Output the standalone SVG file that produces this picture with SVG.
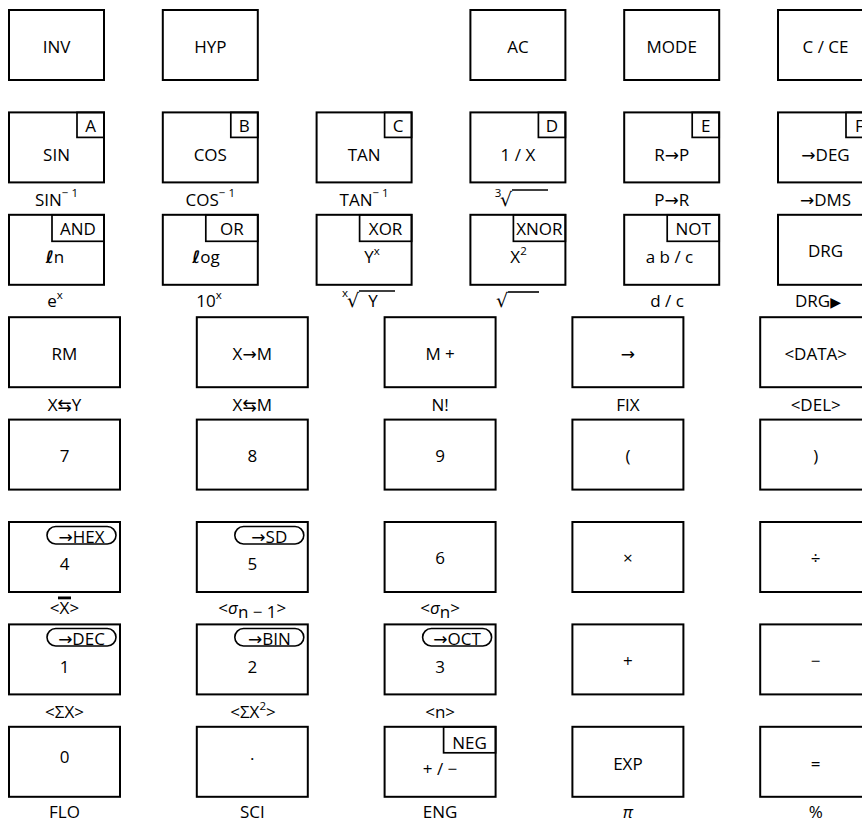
<svg xmlns="http://www.w3.org/2000/svg" width="862" height="823" viewBox="0 0 862 823">
<style>
.k{fill:none;stroke:#000;stroke-width:2}
.c{fill:none;stroke:#000;stroke-width:1.7}
.p{fill:none;stroke:#000;stroke-width:1.6}
.v{stroke:#000;stroke-width:1.6}
text{font-family:"Open Sans","DejaVu Sans",sans-serif;font-size:17px;fill:#000;text-anchor:middle}
.s{font-size:11.5px}
.r{font-family:"DejaVu Sans",sans-serif;font-size:19px;text-anchor:start}
.l{font-style:italic;font-weight:bold;font-family:"DejaVu Sans",sans-serif}
</style>
<rect width="862" height="823" fill="#fff"/>
<g id="connectors"/>
<!-- Row 0 -->
<g id="k-inv"><rect class="k" x="9" y="10" width="95" height="70"/><text x="56.5" y="53">INV</text></g>
<g id="k-hyp"><rect class="k" x="162.8" y="10" width="95" height="70"/><text x="210.3" y="53">HYP</text></g>
<g id="k-ac"><rect class="k" x="470.4" y="10" width="95" height="70"/><text x="517.9" y="53">AC</text></g>
<g id="k-mode"><rect class="k" x="624.2" y="10" width="95" height="70"/><text x="671.7" y="53">MODE</text></g>
<g id="k-cce"><rect class="k" x="778" y="10" width="95" height="70"/><text x="825.5" y="53">C / CE</text></g>
<!-- Row 1 -->
<g id="k-sin"><rect class="k" x="9" y="112.4" width="95" height="70"/><rect class="c" x="77" y="112.4" width="27" height="25"/><text x="90.5" y="132">A</text><text x="56.5" y="161">SIN</text><text x="56.5" y="206">SIN<tspan class="s" dy="-9">− 1</tspan></text></g>
<g id="k-cos"><rect class="k" x="162.8" y="112.4" width="95" height="70"/><rect class="c" x="230.8" y="112.4" width="27" height="25"/><text x="244.3" y="132">B</text><text x="210.3" y="161">COS</text><text x="210.3" y="206">COS<tspan class="s" dy="-9">− 1</tspan></text></g>
<g id="k-tan"><rect class="k" x="316.6" y="112.4" width="95" height="70"/><rect class="c" x="384.6" y="112.4" width="27" height="25"/><text x="398.1" y="132">C</text><text x="364.1" y="161">TAN</text><text x="364.1" y="206">TAN<tspan class="s" dy="-9">− 1</tspan></text></g>
<g id="k-recip"><rect class="k" x="470.4" y="112.4" width="95" height="70"/><rect class="c" x="538.4" y="112.4" width="27" height="25"/><text x="551.9" y="132">D</text><text x="517.9" y="161">1 / X</text><text class="s" x="498" y="197">3</text><text class="r" x="500" y="206">√</text><line class="v" x1="512" y1="190" x2="548" y2="190"/></g>
<g id="k-rp"><rect class="k" x="624.2" y="112.4" width="95" height="70"/><rect class="c" x="692.2" y="112.4" width="27" height="25"/><text x="705.7" y="132">E</text><text x="671.7" y="161">R→P</text><text x="671.7" y="206">P→R</text></g>
<g id="k-deg"><rect class="k" x="778" y="112.4" width="95" height="70"/><rect class="c" x="846" y="112.4" width="27" height="25"/><text x="859.5" y="132">F</text><text x="825.5" y="161">→DEG</text><text x="825.5" y="206">→DMS</text></g>
<!-- Row 2 -->
<g id="k-ln"><rect class="k" x="9" y="214.8" width="95" height="70"/><rect class="c" x="52" y="214.8" width="52" height="26.5"/><text x="78" y="235">AND</text><text x="55" y="263"><tspan class="l">ℓ</tspan>n</text><text x="55" y="307">e<tspan class="s" dy="-8">x</tspan></text></g>
<g id="k-log"><rect class="k" x="162.8" y="214.8" width="95" height="70"/><rect class="c" x="205.8" y="214.8" width="52" height="26.5"/><text x="231.8" y="235">OR</text><text x="206" y="263"><tspan class="l">ℓ</tspan>og</text><text x="209" y="307">10<tspan class="s" dy="-8">x</tspan></text></g>
<g id="k-pow"><rect class="k" x="316.6" y="214.8" width="95" height="70"/><rect class="c" x="359.6" y="214.8" width="52" height="26.5"/><text x="385.6" y="235">XOR</text><text x="372" y="263">Y<tspan class="s" dy="-8">x</tspan></text><text class="s" x="345" y="297">x</text><text class="r" x="347" y="307">√</text><line class="v" x1="359" y1="291" x2="395" y2="291"/><text x="373" y="307">Y</text></g>
<g id="k-sq"><rect class="k" x="470.4" y="214.8" width="95" height="70"/><rect class="c" x="513.4" y="214.8" width="52" height="26.5"/><text x="539.4" y="235">XNOR</text><text x="518.5" y="263">X<tspan class="s" dy="-8">2</tspan></text><text class="r" x="496" y="307">√</text><line class="v" x1="508" y1="292" x2="539" y2="292"/></g>
<g id="k-frac"><rect class="k" x="624.2" y="214.8" width="95" height="70"/><rect class="c" x="667.2" y="214.8" width="52" height="26.5"/><text x="693.2" y="235">NOT</text><text x="669.5" y="263">a  b / c</text><text x="667" y="307">d / c</text></g>
<g id="k-drg"><rect class="k" x="778" y="214.8" width="95" height="70"/><text x="825.5" y="257">DRG</text><text x="818" y="307">DRG<tspan font-family="DejaVu Sans" font-size="14px">▶</tspan></text></g>
<!-- Row 3 -->
<g id="k-rm"><rect class="k" x="9" y="317.2" width="111" height="70"/><text x="64.5" y="360">RM</text><text x="64.5" y="411">X⇆Y</text></g>
<g id="k-xm"><rect class="k" x="196.8" y="317.2" width="111" height="70"/><text x="252.3" y="360">X→M</text><text x="252.3" y="411">X⇆M</text></g>
<g id="k-mplus"><rect class="k" x="384.6" y="317.2" width="111" height="70"/><text x="440.1" y="360">M +</text><text x="440.1" y="411">N!</text></g>
<g id="k-arrow"><rect class="k" x="572.4" y="317.2" width="111" height="70"/><text x="627.9" y="360">→</text><text x="627.9" y="411">FIX</text></g>
<g id="k-data"><rect class="k" x="760.2" y="317.2" width="111" height="70"/><text x="815.7" y="360">&lt;DATA&gt;</text><text x="815.7" y="411">&lt;DEL&gt;</text></g>
<!-- Row 4 -->
<g id="k-7"><rect class="k" x="9" y="419.6" width="111" height="70"/><text x="64.5" y="462">7</text></g>
<g id="k-8"><rect class="k" x="196.8" y="419.6" width="111" height="70"/><text x="252.3" y="462">8</text></g>
<g id="k-9"><rect class="k" x="384.6" y="419.6" width="111" height="70"/><text x="440.1" y="462">9</text></g>
<g id="k-lp"><rect class="k" x="572.4" y="419.6" width="111" height="70"/><text x="627.9" y="462">(</text></g>
<g id="k-rp2"><rect class="k" x="760.2" y="419.6" width="111" height="70"/><text x="815.7" y="462">)</text></g>
<!-- Row 5 -->
<g id="k-4"><rect class="k" x="9" y="522" width="111" height="70"/><rect class="p" x="47" y="526.5" width="69" height="17.5" rx="8.75"/><text x="81.5" y="543">→HEX</text><text x="64.5" y="570">4</text><text x="64.5" y="614">&lt;X&gt;</text><rect x="58" y="596.5" width="13" height="2.8"/></g>
<g id="k-5"><rect class="k" x="196.8" y="522" width="111" height="70"/><rect class="p" x="234.8" y="526.5" width="69" height="17.5" rx="8.75"/><text x="269.3" y="543">→SD</text><text x="252.3" y="570">5</text><text x="252.3" y="614">&lt;<tspan font-style="italic">σ</tspan><tspan dy="4">n − 1</tspan><tspan dy="-4">&gt;</tspan></text></g>
<g id="k-6"><rect class="k" x="384.6" y="522" width="111" height="70"/><text x="440.1" y="564">6</text><text x="440.1" y="614">&lt;<tspan font-style="italic">σ</tspan><tspan dy="4">n</tspan><tspan dy="-4">&gt;</tspan></text></g>
<g id="k-mul"><rect class="k" x="572.4" y="522" width="111" height="70"/><text x="627.9" y="564">×</text></g>
<g id="k-div"><rect class="k" x="760.2" y="522" width="111" height="70"/><text x="815.7" y="564">÷</text></g>
<!-- Row 6 -->
<g id="k-1"><rect class="k" x="9" y="624.4" width="111" height="70"/><rect class="p" x="47" y="628.5" width="69" height="17.5" rx="8.75"/><text x="81.5" y="645">→DEC</text><text x="64.5" y="673">1</text><text x="64.5" y="718">&lt;ΣX&gt;</text></g>
<g id="k-2"><rect class="k" x="196.8" y="624.4" width="111" height="70"/><rect class="p" x="234.8" y="628.5" width="69" height="17.5" rx="8.75"/><text x="269.3" y="645">→BIN</text><text x="252.3" y="673">2</text><text x="253" y="718">&lt;ΣX<tspan class="s" dy="-8">2</tspan><tspan dy="8">&gt;</tspan></text></g>
<g id="k-3"><rect class="k" x="384.6" y="624.4" width="111" height="70"/><rect class="p" x="422.6" y="628.5" width="69" height="17.5" rx="8.75"/><text x="457.1" y="645">→OCT</text><text x="440.1" y="673">3</text><text x="440.1" y="718">&lt;n&gt;</text></g>
<g id="k-add"><rect class="k" x="572.4" y="624.4" width="111" height="70"/><text x="627.9" y="667">+</text></g>
<g id="k-sub"><rect class="k" x="760.2" y="624.4" width="111" height="70"/><text x="815.7" y="667">−</text></g>
<!-- Row 7 -->
<g id="k-0"><rect class="k" x="9" y="726.8" width="111" height="70"/><text x="64.5" y="763">0</text><text x="64.5" y="818">FLO</text></g>
<g id="k-dot"><rect class="k" x="196.8" y="726.8" width="111" height="70"/><text x="252.3" y="765">·</text><text x="252.3" y="818">SCI</text></g>
<g id="k-neg"><rect class="k" x="384.6" y="726.8" width="111" height="70"/><rect class="c" x="443.6" y="726.8" width="52" height="26"/><text x="469.6" y="749">NEG</text><text x="440.1" y="775">+ / −</text><text x="440.1" y="818">ENG</text></g>
<g id="k-exp"><rect class="k" x="572.4" y="726.8" width="111" height="70"/><text x="627.9" y="770">EXP</text><text x="627.9" y="818" font-family="Liberation Serif" font-style="italic">π</text></g>
<g id="k-eq"><rect class="k" x="760.2" y="726.8" width="111" height="70"/><text x="815.7" y="770">=</text><text x="815.7" y="818">%</text></g>
</svg>
